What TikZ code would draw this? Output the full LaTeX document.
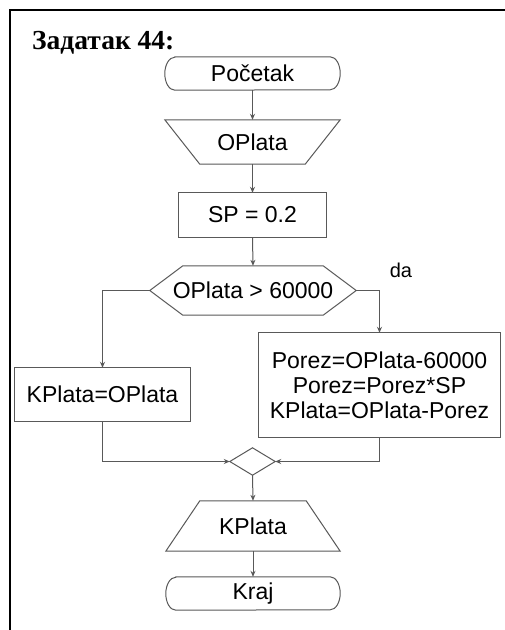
\documentclass[tikz,border=0pt]{standalone}
\usepackage{fontspec}
\setmainfont{Liberation Sans}
\newfontfamily\titlefont{Liberation Serif}
\usetikzlibrary{arrows.meta}
\begin{document}
\begin{tikzpicture}[x=1pt,y=-1pt,
  lbl/.style={inner sep=0pt, font=\fontsize{23}{25}\selectfont, align=center},
  ln/.style={draw=black!65, line width=1pt},
  arr/.style={ln, -{Stealth[length=6pt,width=5pt]}},
]
\useasboundingbox (0,0) rectangle (505,630);
\fill[white] (0,0) rectangle (505,630);
\draw[line width=2pt] (10,630) -- (10,10) -- (505,10);

\node[anchor=base west, inner sep=0pt, font=\titlefont\bfseries\fontsize{27.5}{30}\selectfont] (title) at (32,49.5) {Задатак 44:};

% nodes
\node[lbl, minimum width=175pt, minimum height=33pt] (start) at (252.5,73.5) {Početak};
\node[lbl, minimum width=175pt, minimum height=44pt] (in) at (252.5,142) {OPlata};
\node[lbl, minimum width=147pt, minimum height=44pt] (sp) at (252.5,215) {SP = 0.2};
\node[lbl, minimum width=206pt, minimum height=49pt] (hex) at (253,290.5) {OPlata > 60000};
\node[lbl, minimum width=175pt, minimum height=53pt] (kp) at (102.5,394.5) {KPlata=OPlata};
\node[lbl, minimum width=241pt, minimum height=104pt] (rb) at (379.5,385) {Porez=OPlata-60000\\Porez=Porez*SP\\KPlata=OPlata-Porez};
\node[inner sep=0pt, minimum width=45pt, minimum height=27pt] (dia) at (252.5,461.5) {};
\node[lbl, minimum width=174pt, minimum height=50pt] (out) at (253,526) {KPlata};
\node[lbl, minimum width=174pt, minimum height=33pt] (end) at (253,593.5) {Kraj};
\node[inner sep=0pt, font=\fontsize{20}{22}\selectfont] (da) at (401,270) {da};

% shapes
\draw[ln] ([xshift=10pt]start.north west) -- ([xshift=-10pt]start.north east)
  arc[start angle=90, end angle=-90, x radius=10pt, y radius=16.5pt]
  -- ([xshift=10pt]start.south west)
  arc[start angle=270, end angle=90, x radius=10pt, y radius=16.5pt] -- cycle;
\draw[ln] (in.north west) -- (in.north east) -- ([xshift=-35pt]in.south east) -- ([xshift=35pt]in.south west) -- cycle;
\draw[ln] (sp.north west) rectangle (sp.south east);
\draw[ln] (hex.west) -- ([xshift=33pt]hex.north west) -- ([xshift=-33pt]hex.north east) -- (hex.east) -- ([xshift=-33pt]hex.south east) -- ([xshift=33pt]hex.south west) -- cycle;
\draw[ln] (kp.north west) rectangle (kp.south east);
\draw[ln] (rb.north west) rectangle (rb.south east);
\draw[ln] (dia.west) -- (dia.north) -- (dia.east) -- (dia.south) -- cycle;
\draw[ln] ([xshift=34pt]out.north west) -- ([xshift=-34pt]out.north east) -- (out.south east) -- (out.south west) -- cycle;
\draw[ln] ([xshift=10pt]end.north west) -- ([xshift=-10pt]end.north east)
  arc[start angle=90, end angle=-90, x radius=10pt, y radius=16.5pt]
  -- ([xshift=10pt]end.south west)
  arc[start angle=270, end angle=90, x radius=10pt, y radius=16.5pt] -- cycle;

% connectors
\draw[arr] (start.south) -- (in.north);
\draw[arr] (in.south) -- (sp.north);
\draw[arr] (sp.south) -- (hex.north);
\draw[arr] (hex.west) -| (kp.north);
\draw[arr] (hex.east) -| (rb.north);
\draw[arr] (kp.south) |- (dia.west);
\draw[arr] (rb.south) |- (dia.east);
\draw[arr] (dia.south) -- (out.north);
\draw[arr] (out.south) -- (end.north);
\end{tikzpicture}
\end{document}
